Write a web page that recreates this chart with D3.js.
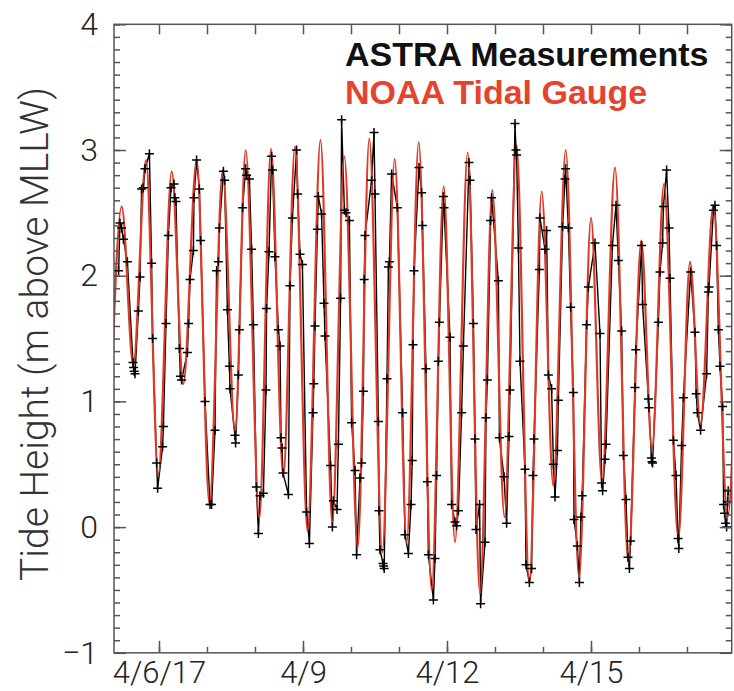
<!DOCTYPE html>
<html>
<head>
<meta charset="utf-8">
<script src="https://cdn.jsdelivr.net/npm/d3@7"></script>
<style>
  body { margin: 0; background: #fff; }
  svg { display: block; }
</style>
</head>
<body>
<script>
// hours after 4/5/2017 00:00 (UTC) and tide height in m above MLLW

// NOAA gauge: highs and lows
var noaaTide = [
  [-0.9, 0.6], [5.35, 2.55], [11.15, 1.29], [17.5, 2.92], [23.65, 0.42], [30.35, 2.83],
  [36.15, 1.14], [42.85, 2.92], [49.25, 0.18], [55.85, 2.84], [62.0, 0.75], [67.35, 3.00],
  [74.15, 0.07], [80.0, 3.01], [86.15, 0.40], [92.0, 3.03], [98.25, -0.03], [104.75, 3.08],
  [110.65, 0.03], [116.65, 2.95], [123.35, -0.16], [129.15, 3.09], [135.65, -0.20], [141.85, 2.93],
  [147.85, -0.12], [153.85, 3.06], [160.35, -0.50], [166.35, 2.71], [172.0, -0.12], [178.35, 2.98],
  [184.5, -0.53], [190.65, 2.68], [196.75, 0.08], [202.75, 3.04], [209.15, -0.44], [215.35, 2.67],
  [221.15, 0.33], [227.35, 3.00], [234.0, -0.40], [240.0, 2.46], [245.5, 0.36], [252.0, 2.86],
  [258.65, -0.28], [265.15, 2.28], [270.5, 0.62], [276.5, 2.73], [283.65, -0.09], [289.5, 2.11],
  [294.75, 0.82], [301.15, 2.56], [308.3, 0.08], [313.5, 2.0]
];

// ASTRA measurements
var astraReadings = [
  [3.8, 2.04], [4.5, 2.42], [5.3, 2.38], [6.2, 2.29], [8.2, 2.11], [11.0, 1.31], [11.3, 1.27],
  [11.6, 1.24], [12.0, 1.22], [13.7, 1.72], [14.5, 1.99], [15.3, 2.69], [16.2, 2.70], [17.0, 2.85],
  [19.2, 2.97], [20.3, 2.10], [20.8, 1.50], [22.8, 0.51], [23.3, 0.31], [25.8, 0.64], [26.2, 0.80],
  [27.5, 1.62], [28.7, 2.32], [30.0, 2.70], [31.5, 2.73], [31.9, 2.62], [32.5, 2.59], [34.2, 1.42],
  [34.7, 1.20], [35.3, 1.17], [38.2, 1.39], [38.8, 1.62], [39.5, 1.97], [41.2, 2.20], [41.5, 2.62],
  [42.8, 2.92], [44.2, 2.69], [44.8, 2.28], [47.0, 1.00], [49.5, 0.18], [50.3, 0.18], [52.0, 0.77],
  [52.8, 2.04], [53.7, 2.11], [54.2, 2.38], [56.2, 2.83], [56.8, 2.76], [58.2, 1.73], [59.2, 1.28],
  [59.5, 1.10], [62.0, 0.73], [62.3, 0.67], [63.7, 1.21], [64.2, 1.57], [65.8, 2.54], [67.3, 2.85],
  [67.8, 2.80], [69.2, 2.77], [70.3, 2.21], [71.2, 1.61], [72.7, 0.32], [73.7, -0.05], [74.5, 0.25],
  [76.2, 0.27], [77.5, 1.09], [77.8, 1.74], [79.0, 2.19], [80.3, 2.95], [80.8, 2.84], [82.0, 2.15],
  [83.7, 1.57], [84.5, 1.44], [85.0, 0.71], [85.5, 0.63], [86.0, 0.43], [88.7, 0.26], [89.5, 1.92],
  [90.7, 2.46], [92.8, 3.00], [93.3, 2.65], [94.5, 2.17], [95.7, 2.09], [97.8, 0.12], [99.2, -0.13],
  [101.0, 0.91], [101.4, 1.14], [102.0, 1.60], [103.2, 2.37], [103.7, 2.63], [105.3, 2.49], [106.5, 1.78],
  [107.0, 1.52], [109.8, 0.49], [110.7, 0.00], [111.2, 0.21], [113.0, 0.14], [113.7, 0.66], [114.8, 1.82],
  [115.3, 3.24], [116.7, 2.52], [117.5, 2.50], [119.2, 2.44], [120.3, 0.83], [122.0, 0.45], [122.8, -0.22],
  [124.5, 0.39], [125.3, 0.51], [126.2, 1.08], [126.6, 1.97], [127.0, 2.32], [130.3, 2.76], [131.5, 3.14],
  [132.0, 2.65], [133.7, 0.84], [134.0, 0.13], [134.5, -0.18], [136.0, -0.29], [136.3, -0.31], [136.6, -0.33],
  [138.0, 1.18], [138.7, 2.07], [139.2, 2.11], [140.3, 2.81], [143.2, 2.54], [145.8, 0.91], [147.0, -0.06],
  [148.7, -0.21], [150.0, 0.18], [150.6, 0.53], [151.0, 1.45], [151.5, 2.04], [154.0, 2.86], [155.3, 2.66],
  [155.7, 2.40], [157.5, 1.26], [158.2, 0.36], [158.7, -0.22], [161.2, -0.58], [162.0, -0.25], [162.8, 0.41],
  [163.7, 1.32], [164.2, 1.63], [166.2, 2.63], [166.5, 2.54], [169.5, 1.51], [170.3, 0.18], [172.0, 0.04],
  [172.8, 0.01], [173.7, 0.13], [175.3, 0.91], [176.2, 1.44], [179.0, 2.90], [179.5, 2.76], [181.2, 1.62],
  [182.0, 0.70], [182.5, -0.02], [184.3, 0.18], [184.8, -0.61], [187.0, -0.12], [187.5, 0.87], [188.2, 1.17],
  [189.8, 2.44], [190.3, 2.62], [193.7, 1.96], [194.2, 0.71], [196.5, 0.40], [197.8, 0.03], [199.0, 0.72],
  [199.5, 1.09], [202.0, 3.21], [202.5, 3.00], [202.8, 2.96], [203.7, 2.22], [204.5, 1.32], [207.0, 0.46],
  [207.5, -0.30], [209.2, -0.44], [210.3, -0.33], [211.0, 0.41], [211.5, 0.70], [214.2, 2.05], [214.5, 2.46],
  [217.0, 2.21], [217.8, 2.36], [218.7, 1.21], [220.3, 1.10], [221.2, 0.50], [222.0, 0.24], [223.2, 0.61],
  [223.7, 1.01], [225.8, 2.39], [227.0, 2.77], [227.3, 2.85], [228.7, 2.38], [229.8, 1.75], [231.2, 1.07],
  [231.5, 0.06], [233.2, -0.15], [234.2, -0.44], [235.0, 0.08], [235.6, 0.25], [237.8, 1.61], [238.7, 1.91],
  [242.0, 2.26], [244.5, 1.54], [245.3, 0.35], [245.8, 0.29], [247.0, 0.54], [247.5, 0.66], [250.7, 2.24],
  [252.5, 2.56], [253.7, 2.12], [255.3, 1.56], [256.2, 0.57], [257.5, 0.22], [258.5, -0.24], [259.2, -0.33],
  [259.8, -0.11], [262.0, 1.11], [262.4, 1.41], [265.3, 2.24], [265.8, 1.77], [268.7, 1.02], [269.0, 0.95],
  [270.2, 0.55], [270.5, 0.52], [270.8, 0.51], [273.7, 1.63], [274.5, 2.03], [275.8, 2.26], [276.2, 2.55],
  [277.8, 2.84], [279.0, 2.38], [279.5, 1.98], [281.2, 0.69], [282.5, 0.41], [283.5, -0.09], [283.9, -0.17],
  [285.3, 0.65], [286.2, 1.03], [289.8, 2.03], [292.0, 1.55], [292.6, 1.06], [293.2, 0.91], [294.8, 0.77],
  [297.8, 1.22], [298.7, 1.87], [299.0, 1.91], [301.2, 2.52], [302.0, 2.56], [302.8, 2.24], [303.7, 1.57],
  [304.5, 1.28], [305.8, 0.96], [306.3, 0.18], [306.8, 0.11], [307.3, 0.03], [307.8, 0.00], [308.3, 0.20],
  [308.6, 0.29]
];

var xRangeHours = [1.5, 310.35];
var xMajorDays = [6, 9, 12, 15];
var xMajorLabels = ["4/6/17", "4/9", "4/12", "4/15"];
var xMinorDays = d3.range(6, 18);
var yMajorTicks = [-1, 0, 1, 2, 3, 4];

var legendItems = [
  {text: "ASTRA Measurements", color: "#111111"},
  {text: "NOAA Tidal Gauge", color: "#e5432d"}
];

var width = 734, height = 691;
var plot = {left: 114, right: 731.7, top: 24.3, bottom: 652.8};
var axisColor = "#555";
var labelFont = "Roboto, 'Liberation Sans', Arial, sans-serif";

var start = Date.UTC(2017, 3, 5);
function toDate(h) { return new Date(start + h * 3600e3); }
function day(d) { return new Date(Date.UTC(2017, 3, d)); }

var xScale = d3.scaleUtc()
    .domain(xRangeHours.map(toDate))
    .range([plot.left, plot.right]);
var yScale = d3.scaleLinear()
    .domain([-1, 4])
    .range([plot.bottom, plot.top]);

var svg = d3.select("body").append("svg")
    .attr("width", width)
    .attr("height", height);

svg.append("rect").attr("width", width).attr("height", height).attr("fill", "#fff");

svg.append("clipPath").attr("id", "plotclip")
  .append("rect")
    .attr("x", plot.left).attr("y", plot.top)
    .attr("width", plot.right - plot.left)
    .attr("height", plot.bottom - plot.top);

var marks = svg.append("g").attr("clip-path", "url(#plotclip)");

// ASTRA line (under the gauge curve)
var astraLine = d3.line()
    .x(function(d) { return xScale(toDate(d[0])); })
    .y(function(d) { return yScale(d[1]); });

marks.append("path")
    .datum(astraReadings)
    .attr("d", astraLine)
    .attr("fill", "none")
    .attr("stroke", "#000")
    .attr("stroke-width", 1.4);

// NOAA curve, smooth through highs and lows
var noaaLine = d3.line()
    .curve(d3.curveMonotoneX)
    .x(function(d) { return xScale(toDate(d[0])); })
    .y(function(d) { return yScale(d[1]); });

marks.append("path")
    .datum(noaaTide)
    .attr("d", noaaLine)
    .attr("fill", "none")
    .attr("stroke", "#dc3a27")
    .attr("stroke-width", 2.2);

// plus markers
marks.selectAll("path.plus")
    .data(astraReadings)
  .enter().append("path")
    .attr("class", "plus")
    .attr("transform", function(d) {
      return "translate(" + xScale(toDate(d[0])) + "," + yScale(d[1]) + ")";
    })
    .attr("d", "M-4.5,0H4.5M0,-4.5V4.5")
    .attr("stroke", "#000")
    .attr("stroke-width", 1.5)
    .attr("fill", "none");

// axes, ticks pointing inward on all four sides
function styleAxis(g) {
  g.select(".domain").remove();
  g.selectAll(".tick line").attr("stroke", axisColor).attr("stroke-width", 1.5);
  g.selectAll(".tick text")
    .attr("fill", "#222")
    .style("font-family", labelFont)
    .style("font-weight", 300)
    .style("font-size", "31px");
}

var minorDates = xMinorDays.map(day);
var majorDates = xMajorDays.map(day);
var yMinorTicks = d3.range(-10, 41).map(function(i) { return i / 10; });

svg.append("g")
    .attr("transform", "translate(0," + plot.bottom + ")")
    .call(d3.axisBottom(xScale).tickValues(minorDates).tickSizeInner(-6).tickSizeOuter(0).tickFormat(""))
    .call(styleAxis);
svg.append("g")
    .attr("transform", "translate(0," + plot.bottom + ")")
    .call(d3.axisBottom(xScale).tickValues(majorDates).tickSizeInner(-12).tickSizeOuter(0)
      .tickPadding(8).tickFormat(function(d, i) { return xMajorLabels[i]; }))
    .call(styleAxis);
svg.append("g")
    .attr("transform", "translate(0," + plot.top + ")")
    .call(d3.axisTop(xScale).tickValues(minorDates).tickSizeInner(-10).tickSizeOuter(0).tickFormat(""))
    .call(styleAxis);

svg.append("g")
    .attr("transform", "translate(" + plot.left + ",0)")
    .call(d3.axisLeft(yScale).tickValues(yMinorTicks).tickSizeInner(-6).tickSizeOuter(0).tickFormat(""))
    .call(styleAxis);
svg.append("g")
    .attr("transform", "translate(" + plot.left + ",0)")
    .call(d3.axisLeft(yScale).tickValues(yMajorTicks).tickSizeInner(-12).tickSizeOuter(0)
      .tickPadding(16).tickFormat(d3.format("d")))
    .call(styleAxis)
    .selectAll(".tick text").style("font-size", "32px");
svg.append("g")
    .attr("transform", "translate(" + plot.right + ",0)")
    .call(d3.axisRight(yScale).tickValues(yMinorTicks).tickSizeInner(-6).tickSizeOuter(0).tickFormat(""))
    .call(styleAxis);
svg.append("g")
    .attr("transform", "translate(" + plot.right + ",0)")
    .call(d3.axisRight(yScale).tickValues(yMajorTicks).tickSizeInner(-12).tickSizeOuter(0).tickFormat(""))
    .call(styleAxis);

// frame
svg.append("rect")
    .attr("x", plot.left).attr("y", plot.top)
    .attr("width", plot.right - plot.left)
    .attr("height", plot.bottom - plot.top)
    .attr("fill", "none")
    .attr("stroke", axisColor)
    .attr("stroke-width", 1.5);

// y label
svg.append("text")
    .attr("transform", "translate(48,334) rotate(-90)")
    .attr("text-anchor", "middle")
    .attr("fill", "#333")
    .style("font-family", labelFont)
    .style("font-weight", 300)
    .style("font-size", "39px")
    .text("Tide Height (m above MLLW)");

// legend
svg.selectAll("text.legend")
    .data(legendItems)
  .enter().append("text")
    .attr("class", "legend")
    .attr("x", 345)
    .attr("y", function(d, i) { return 66 + i * 38; })
    .attr("fill", function(d) { return d.color; })
    .style("font-family", "'Liberation Sans', Arial, sans-serif")
    .style("font-weight", "bold")
    .style("font-size", "34px")
    .text(function(d) { return d.text; });
</script>
</body>
</html>
